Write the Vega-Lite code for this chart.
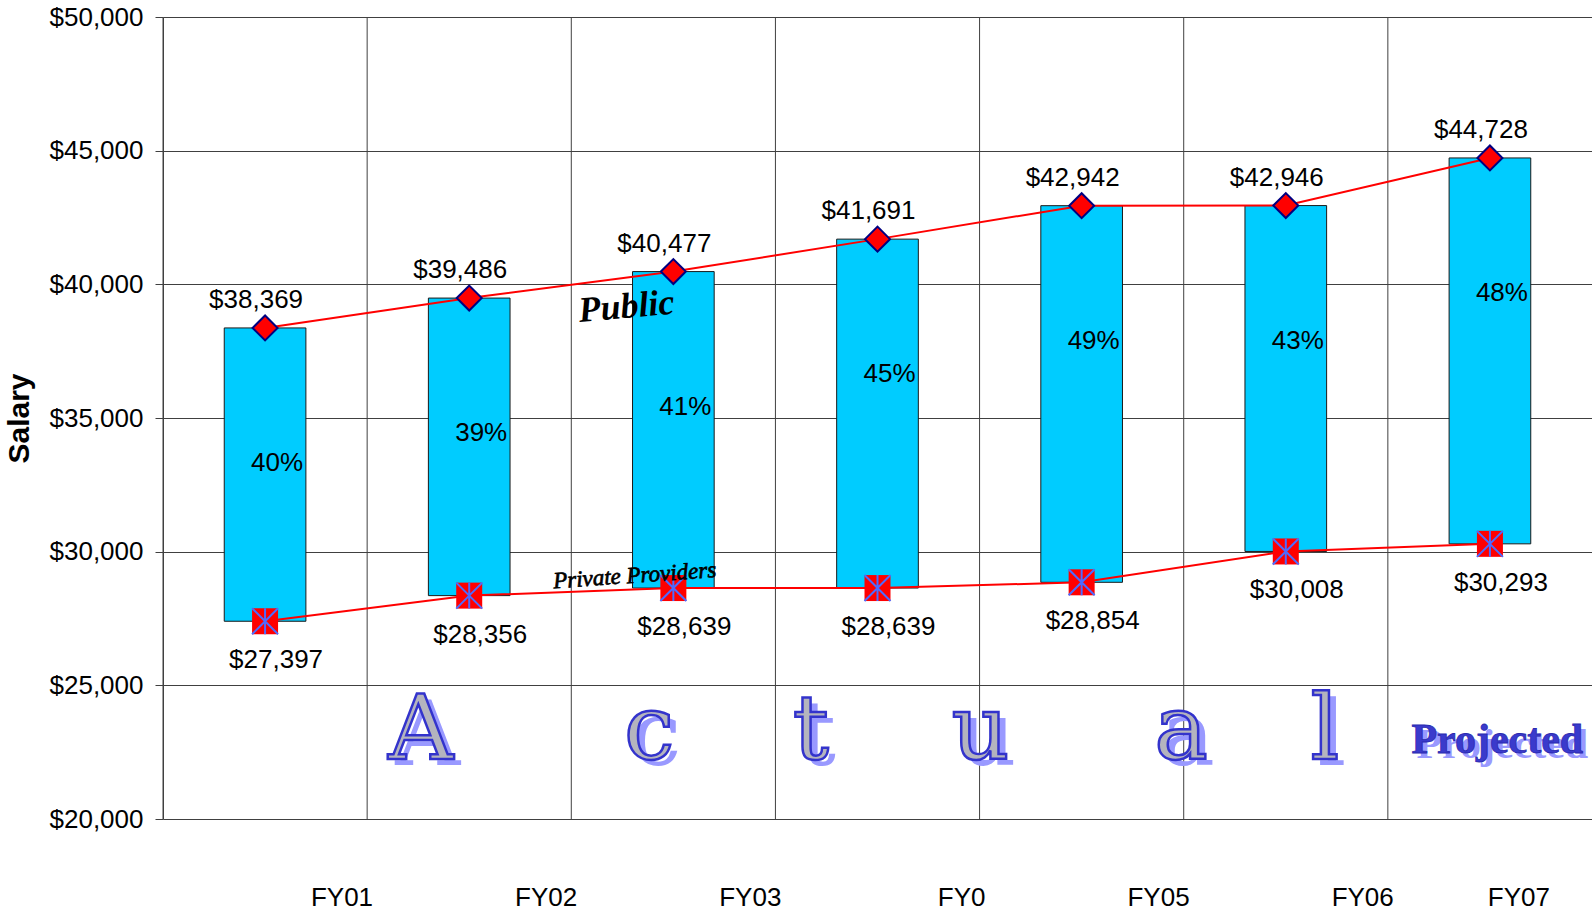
{
  "$schema": "https://vega.github.io/schema/vega-lite/v6.json",
  "width": 1429,
  "height": 802,
  "autosize": {"type": "none"},
  "padding": {"left": 163, "top": 17, "right": 0, "bottom": 97},
  "background": "white",
  "config": {"view": {"stroke": null}, "font": "Liberation Sans"},
  "datasets": {
    "salary": [
      {"fy": "FY01", "public": 38369, "private": 27397, "pct": "40%"},
      {"fy": "FY02", "public": 39486, "private": 28356, "pct": "39%"},
      {"fy": "FY03", "public": 40477, "private": 28639, "pct": "41%"},
      {"fy": "FY0", "public": 41691, "private": 28639, "pct": "45%"},
      {"fy": "FY05", "public": 42942, "private": 28854, "pct": "49%"},
      {"fy": "FY06", "public": 42946, "private": 30008, "pct": "43%"},
      {"fy": "FY07", "public": 44728, "private": 30293, "pct": "48%"}
    ],
    "notes": [
      {"kind": "public", "label": "Public", "ax": 2.275, "ay": 38750},
      {"kind": "private", "label": "Private Providers", "ax": 2.313, "ay": 28840},
      {"kind": "actual", "label": "A", "ax": 1.263, "ay": 22240},
      {"kind": "actual", "label": "c", "ax": 2.382, "ay": 22240},
      {"kind": "actual", "label": "t", "ax": 3.174, "ay": 22240},
      {"kind": "actual", "label": "u", "ax": 4.005, "ay": 22240},
      {"kind": "actual", "label": "a", "ax": 4.987, "ay": 22240},
      {"kind": "actual", "label": "l", "ax": 5.691, "ay": 22240},
      {"kind": "projected", "label": "Projected", "ax": 6.536, "ay": 22480}
    ]
  },
  "layer": [
    {
      "data": {"name": "salary"},
      "layer": [
        {
          "mark": {"type": "rule", "color": "#404040", "strokeWidth": 1},
          "encoding": {
            "x": {"field": "fy", "type": "nominal", "sort": null, "bandPosition": 0, "title": null}
          }
        },
        {
          "mark": {"type": "bar", "fill": "#00CCFF", "stroke": "#1a1a1a", "strokeWidth": 1, "width": {"band": 0.4}},
          "encoding": {
            "x": {
              "field": "fy", "type": "nominal", "sort": null, "title": null,
              "scale": {"paddingInner": 0, "paddingOuter": 0},
              "axis": {
                "labelAngle": 0,
                "labelOffset": {"condition": {"test": "datum.value == 'FY07'", "value": 60}, "value": 108},
                "ticks": false, "tickSize": 0, "domain": false, "grid": false, "labelFontSize": 26,
                "labelPadding": 78, "labelColor": "#000000", "labelFont": "Liberation Sans"
              }
            },
            "y": {
              "field": "public", "type": "quantitative", "title": "Salary",
              "scale": {"domain": [20000, 50000], "nice": false, "zero": false},
              "axis": {
                "values": [20000, 25000, 30000, 35000, 40000, 45000, 50000],
                "format": "$,.0f", "grid": true, "gridColor": "#404040", "gridWidth": 1, "gridOpacity": 1,
                "domain": true, "domainColor": "#404040", "tickColor": "#404040", "tickSize": 8,
                "labelPadding": 12, "labelFontSize": 26, "labelColor": "#000000", "labelFont": "Liberation Sans",
                "titleFontSize": 30, "titleFontWeight": "bold", "titleColor": "#000000", "titleFont": "Liberation Sans",
                "titleX": -135, "titleY": 401, "titleBaseline": "alphabetic"
              }
            },
            "y2": {"field": "private"}
          }
        },
        {
          "mark": {"type": "line", "color": "#FF0000", "strokeWidth": 2},
          "encoding": {
            "x": {"field": "fy", "type": "nominal", "sort": null, "title": null},
            "y": {"field": "public", "type": "quantitative", "title": "Salary"}
          }
        },
        {
          "mark": {"type": "line", "color": "#FF0000", "strokeWidth": 2},
          "encoding": {
            "x": {"field": "fy", "type": "nominal", "sort": null, "title": null},
            "y": {"field": "private", "type": "quantitative", "title": "Salary"}
          }
        },
        {
          "mark": {"type": "point", "shape": "diamond", "size": 625, "filled": true, "fill": "#FF0000", "stroke": "#000080", "strokeWidth": 2, "opacity": 1},
          "encoding": {
            "x": {"field": "fy", "type": "nominal", "sort": null, "title": null},
            "y": {"field": "public", "type": "quantitative", "title": "Salary"}
          }
        },
        {
          "mark": {"type": "point", "shape": "square", "size": 676, "filled": true, "fill": "#FF0000", "strokeWidth": 0, "opacity": 1},
          "encoding": {
            "x": {"field": "fy", "type": "nominal", "sort": null, "title": null},
            "y": {"field": "private", "type": "quantitative", "title": "Salary"}
          }
        },
        {
          "mark": {"type": "point", "shape": "M-1,-1L1,1M1,-1L-1,1M0,-1L0,1", "size": 676, "filled": false, "stroke": "#4D6BFF", "strokeWidth": 2, "opacity": 1},
          "encoding": {
            "x": {"field": "fy", "type": "nominal", "sort": null, "title": null},
            "y": {"field": "private", "type": "quantitative", "title": "Salary"}
          }
        },
        {
          "mark": {"type": "text", "fontSize": 26, "align": "center", "baseline": "alphabetic", "dx": -9, "dy": -20, "color": "#000000", "font": "Liberation Sans"},
          "encoding": {
            "x": {"field": "fy", "type": "nominal", "sort": null, "title": null},
            "y": {"field": "public", "type": "quantitative", "title": "Salary"},
            "text": {"field": "public", "type": "quantitative", "format": "$,.0f"}
          }
        },
        {
          "mark": {"type": "text", "fontSize": 26, "align": "center", "baseline": "alphabetic", "dx": 11, "dy": 47, "color": "#000000", "font": "Liberation Sans"},
          "encoding": {
            "x": {"field": "fy", "type": "nominal", "sort": null, "title": null},
            "y": {"field": "private", "type": "quantitative", "title": "Salary"},
            "text": {"field": "private", "type": "quantitative", "format": "$,.0f"}
          }
        },
        {
          "mark": {"type": "text", "fontSize": 26, "align": "center", "baseline": "middle", "dx": 12, "dy": 135, "color": "#000000", "font": "Liberation Sans"},
          "encoding": {
            "x": {"field": "fy", "type": "nominal", "sort": null, "title": null},
            "y": {"field": "public", "type": "quantitative", "title": "Salary"},
            "text": {"field": "pct", "type": "nominal"}
          }
        }
      ]
    },
    {
      "data": {"name": "notes"},
      "layer": [
        {
          "transform": [{"filter": "datum.kind === 'public'"}],
          "mark": {"type": "text", "font": "Liberation Serif", "fontStyle": "italic", "fontWeight": "bold", "fontSize": 36, "angle": -5, "align": "center", "baseline": "alphabetic", "color": "#000000"},
          "encoding": {
            "x": {"field": "ax", "type": "quantitative", "scale": {"domain": [0, 7], "nice": false, "zero": false}, "axis": null},
            "y": {"field": "ay", "type": "quantitative", "title": "Salary"},
            "text": {"field": "label"}
          }
        },
        {
          "transform": [{"filter": "datum.kind === 'private'"}],
          "mark": {"type": "text", "font": "Liberation Serif", "fontStyle": "italic", "fontSize": 23, "angle": -4, "align": "center", "baseline": "alphabetic", "color": "#000000", "stroke": "#000000", "strokeWidth": 0.7},
          "encoding": {
            "x": {"field": "ax", "type": "quantitative", "axis": null},
            "y": {"field": "ay", "type": "quantitative", "title": "Salary"},
            "text": {"field": "label"}
          }
        },
        {
          "transform": [{"filter": "datum.kind === 'actual'"}],
          "mark": {"type": "text", "font": "DejaVu Serif", "fontSize": 90, "align": "center", "baseline": "alphabetic", "dx": 7, "dy": 6, "fill": "#9999FF"},
          "encoding": {
            "x": {"field": "ax", "type": "quantitative", "axis": null},
            "y": {"field": "ay", "type": "quantitative", "title": "Salary"},
            "text": {"field": "label"}
          }
        },
        {
          "transform": [{"filter": "datum.kind === 'actual'"}],
          "mark": {"type": "text", "font": "DejaVu Serif", "fontSize": 90, "align": "center", "baseline": "alphabetic", "fill": "#B4B4BE", "stroke": "#3333CC", "strokeWidth": 2.5},
          "encoding": {
            "x": {"field": "ax", "type": "quantitative", "axis": null},
            "y": {"field": "ay", "type": "quantitative", "title": "Salary"},
            "text": {"field": "label"}
          }
        },
        {
          "transform": [{"filter": "datum.kind === 'projected'"}],
          "mark": {"type": "text", "font": "Liberation Serif", "fontWeight": "bold", "fontSize": 42, "align": "center", "baseline": "alphabetic", "dx": 5, "dy": 5, "fill": "#9999FF"},
          "encoding": {
            "x": {"field": "ax", "type": "quantitative", "axis": null},
            "y": {"field": "ay", "type": "quantitative", "title": "Salary"},
            "text": {"field": "label"}
          }
        },
        {
          "transform": [{"filter": "datum.kind === 'projected'"}],
          "mark": {"type": "text", "font": "Liberation Serif", "fontWeight": "bold", "fontSize": 42, "align": "center", "baseline": "alphabetic", "fill": "#3A3ACC", "stroke": "#2A2AB0", "strokeWidth": 0.8},
          "encoding": {
            "x": {"field": "ax", "type": "quantitative", "axis": null},
            "y": {"field": "ay", "type": "quantitative", "title": "Salary"},
            "text": {"field": "label"}
          }
        }
      ]
    }
  ],
  "resolve": {"scale": {"x": "independent"}, "axis": {"x": "independent"}}
}
